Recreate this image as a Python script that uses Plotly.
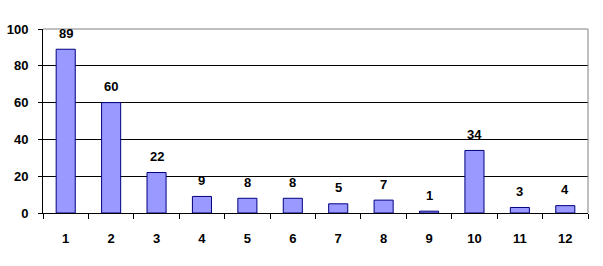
import plotly.graph_objects as go

categories = ["1", "2", "3", "4", "5", "6", "7", "8", "9", "10", "11", "12"]
values = [89, 60, 22, 9, 8, 8, 5, 7, 1, 34, 3, 4]
y_ticks = [0, 20, 40, 60, 80, 100]

font = dict(family="Liberation Sans, Arial, sans-serif", size=13, color="black",
            weight="bold")

fig = go.Figure()
fig.add_trace(go.Bar(
    x=categories, y=values,
    marker=dict(color="#9999FF", line=dict(color="#000080", width=1)),
    width=0.42,
))
for i, v in enumerate(values):
    fig.add_annotation(x=i, y=v, text=str(v), showarrow=False, yshift=16,
                       font=font)

fig.add_shape(type="line", xref="paper", yref="paper", x0=0, x1=1, y0=1, y1=1,
              line=dict(color="#808080", width=1))
fig.add_shape(type="line", xref="paper", yref="paper", x0=1, x1=1, y0=0, y1=1,
              line=dict(color="#808080", width=1))

fig.update_layout(
    width=603, height=266,
    margin=dict(l=43, r=15, t=29, b=53),
    paper_bgcolor="white", plot_bgcolor="white",
    showlegend=False, font=font,
    xaxis=dict(type="category", showline=True, linecolor="black", linewidth=1,
               ticks="outside", tickson="boundaries", ticklen=5, tickcolor="black",
               showgrid=False, ticklabelstandoff=13, automargin=False),
    yaxis=dict(range=[0, 100], tickvals=y_ticks, showline=True, linecolor="black",
               linewidth=1, ticks="outside", ticklen=4, tickcolor="black",
               showgrid=True, gridcolor="black", gridwidth=1, zeroline=False,
               ticklabelstandoff=7, automargin=False),
)
fig.write_html("out.html")
